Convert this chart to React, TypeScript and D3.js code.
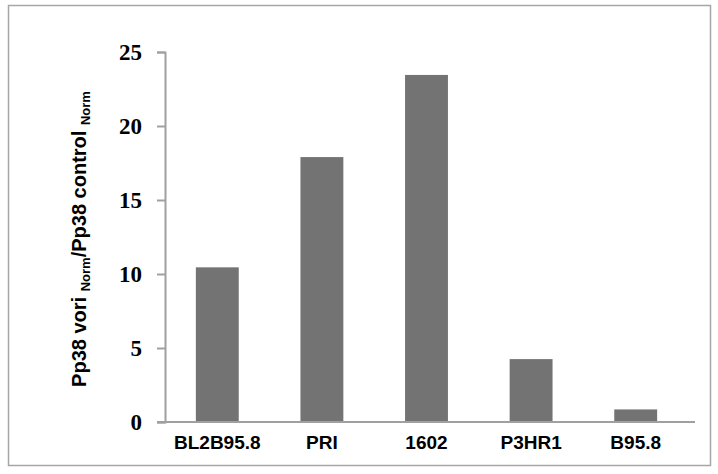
import React, { useEffect, useRef } from "react";
import * as d3 from "d3";

const categories = ["BL2B95.8", "PRI", "1602", "P3HR1", "B95.8"];
const values = [10.45, 17.9, 23.45, 4.25, 0.85];
const yTicks = [0, 5, 10, 15, 20, 25];

const W = 718;
const H = 474;
const M = { left: 165, right: 23, top: 52, bottom: 52 };

export default function App() {
  const ref = useRef<SVGSVGElement | null>(null);

  useEffect(() => {
    const svg = d3.select(ref.current);
    svg.selectAll("*").remove();

    svg
      .append("rect")
      .attr("x", 8.5)
      .attr("y", 5.5)
      .attr("width", 702)
      .attr("height", 460)
      .attr("fill", "white")
      .attr("stroke", "#a6a6a6")
      .attr("stroke-width", 1.5);

    const x = d3
      .scaleBand<string>()
      .domain(categories)
      .range([M.left, W - M.right - 7])
      .paddingInner(0.59)
      .paddingOuter(0.295);

    const y = d3.scaleLinear().domain([0, 25]).range([H - M.bottom, M.top]);

    // bars
    svg
      .append("g")
      .selectAll("rect")
      .data(values)
      .join("rect")
      .attr("x", (_d, i) => x(categories[i]) as number)
      .attr("width", x.bandwidth())
      .attr("y", (d) => y(d))
      .attr("height", (d) => y(0) - y(d))
      .attr("fill", "#737373");

    // y axis
    const yAxis = d3
      .axisLeft(y)
      .tickValues(yTicks)
      .tickSize(8)
      .tickPadding(15)
      .tickFormat(d3.format("d"));
    const gy = svg
      .append("g")
      .attr("transform", `translate(${M.left},0)`)
      .call(yAxis);
    gy.select(".domain").attr("stroke", "#a0a0a0").attr("stroke-width", 2);
    gy.selectAll(".tick line").attr("stroke", "#a0a0a0").attr("stroke-width", 2);
    gy.selectAll(".tick text")
      .attr("font-family", "'Liberation Serif', 'DejaVu Serif', serif")
      .attr("font-weight", "bold")
      .attr("font-size", 23)
      .attr("fill", "#000");

    // x axis
    const xAxis = d3.axisBottom(x).tickSize(0).tickPadding(14);
    const gx = svg
      .append("g")
      .attr("transform", `translate(0,${y(0)})`)
      .call(xAxis);
    gx.select(".domain")
      .attr("d", `M${M.left - 8},0H${W - M.right}`)
      .attr("stroke", "#a0a0a0")
      .attr("stroke-width", 2);
    gx.selectAll(".tick text")
      .attr("font-family", "'Liberation Sans', Arial, sans-serif")
      .attr("font-weight", "bold")
      .attr("font-size", 19)
      .attr("fill", "#000");

    // y label
    const lbl = svg
      .append("text")
      .attr("transform", `translate(86,${(M.top + H - M.bottom) / 2 + 2}) rotate(-90)`)
      .attr("text-anchor", "middle")
      .attr("font-family", "'Liberation Sans', Arial, sans-serif")
      .attr("font-weight", "bold")
      .attr("font-size", 20)
      .attr("fill", "#000");
    lbl.append("tspan").text("Pp38 vori ");
    lbl.append("tspan").attr("font-size", 13).attr("dy", 4).text("Norm");
    lbl.append("tspan").attr("dy", -4).text("/Pp38 control ");
    lbl.append("tspan").attr("font-size", 13).attr("dy", 4).text("Norm");
  }, []);

  return (
    <svg
      ref={ref}
      width={W}
      height={H}
      style={{ position: "absolute", left: 0, top: 0, background: "white" }}
    />
  );
}
